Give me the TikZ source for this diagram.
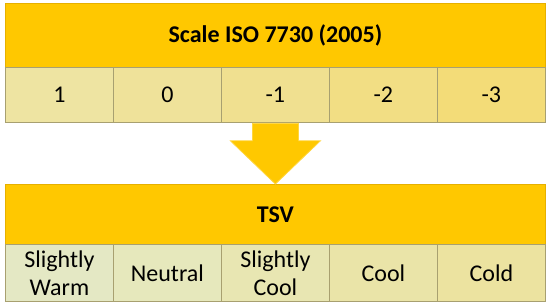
\documentclass[tikz,border=0pt]{standalone}
\usepackage{fontspec}
\setmainfont{Carlito}
\usetikzlibrary{calc}
\definecolor{gold}{HTML}{FFC800}
\definecolor{hdrline}{HTML}{E6B000}
\definecolor{cellline}{HTML}{A8A070}
\definecolor{arrowline}{HTML}{FFD640}
\definecolor{t1}{HTML}{EEE4A2}
\definecolor{t2}{HTML}{EFE29A}
\definecolor{t3}{HTML}{F0E090}
\definecolor{t4}{HTML}{F2DE84}
\definecolor{t5}{HTML}{F3DC78}
\definecolor{b1}{HTML}{E4E8C4}
\definecolor{b2}{HTML}{E6E8BC}
\definecolor{b3}{HTML}{E8E6B2}
\definecolor{b4}{HTML}{EAE4A8}
\definecolor{b5}{HTML}{ECE3A0}
\begin{document}
\begin{tikzpicture}[x=1pt,y=-1pt,
  hdr/.style={draw=hdrline, fill=gold, line width=0.8pt, minimum width=540pt,
    inner sep=0pt, anchor=north west, font=\fontsize{24}{28}\selectfont\bfseries},
  cell/.style={draw=cellline, line width=0.8pt, minimum width=108pt,
    inner sep=0pt, anchor=north west, align=center,
    font=\fontsize{24}{28}\selectfont},
  toprow/.style={cell, minimum height=55pt},
  botrow/.style={cell, minimum height=57pt},
]
\useasboundingbox (0,0) rectangle (550,308);
\fill[white] (0,0) rectangle (550,308);
% top block
\node[hdr, minimum height=64pt] (h1) at (5,3) {Scale ISO 7730 (2005)};
\node[toprow, fill=t1] (c1) at (5,67)   {1};
\node[toprow, fill=t2] (c2) at (113,67) {0};
\node[toprow, fill=t3] (c3) at (221,67) {-1};
\node[toprow, fill=t4] (c4) at (329,67) {-2};
\node[toprow, fill=t5] (c5) at (437,67) {-3};
% bottom block
\node[hdr, minimum height=60pt] (h2) at (5,184) {TSV};
\node[botrow, fill=b1] (d1) at (5,244)   {Slightly\\Warm};
\node[botrow, fill=b2] (d2) at (113,244) {Neutral};
\node[botrow, fill=b3] (d3) at (221,244) {Slightly\\Cool};
\node[botrow, fill=b4] (d4) at (329,244) {Cool};
\node[botrow, fill=b5] (d5) at (437,244) {Cold};
% arrow from c3 to h2
\coordinate (tip) at ($(c3.south)!1!(c3.south |- h2.north)$);
\filldraw[fill=gold, draw=arrowline, line width=0.8pt]
  ($(c3.south)+(-23,0.5)$) -- ($(c3.south)+(23,0.5)$) -- ($(c3.south)+(23,18)$)
  -- ($(c3.south)+(45,18)$) -- (tip) -- ($(c3.south)+(-45,18)$)
  -- ($(c3.south)+(-23,18)$) -- cycle;
\end{tikzpicture}
\end{document}
